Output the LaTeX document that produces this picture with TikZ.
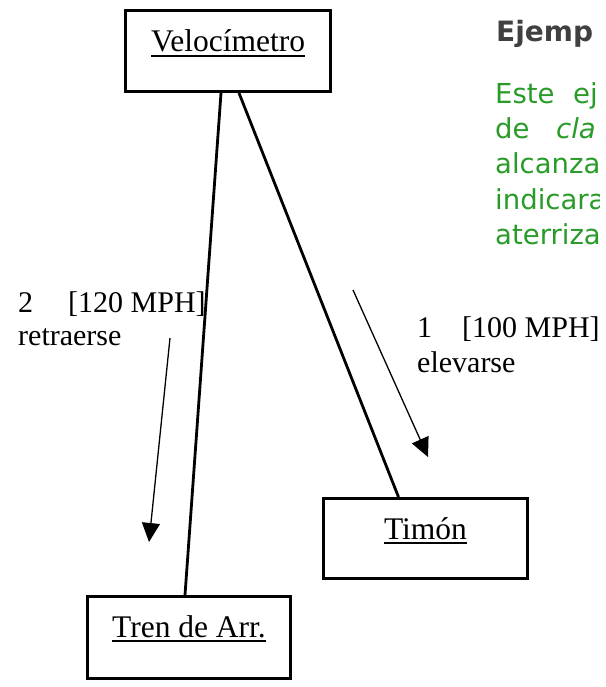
\documentclass[tikz,border=0pt]{standalone}
\usepackage{fontspec}
\setmainfont{Liberation Serif}
\newfontfamily\verdfont{DejaVu Sans}
\usetikzlibrary{arrows.meta}
\definecolor{exgreen}{RGB}{40,155,40}
\definecolor{exgray}{RGB}{64,64,64}
\newsavebox\ulsave
\newcommand\myul[1]{\sbox\ulsave{#1}\rlap{\rule[-4.75pt]{\wd\ulsave}{1.5pt}}\usebox\ulsave}
\tikzset{
  boxnode/.style={draw, line width=3pt, inner sep=0pt, anchor=base, font=\fontsize{31.5}{36}\selectfont},
  conn/.style={line width=2.8pt},
  arr/.style={line width=1.3pt, -{Triangle[length=19pt,width=18pt]}},
  lbl/.style={anchor=base west, inner sep=0pt, font=\fontsize{30}{34}\selectfont},
  grn/.style={anchor=base west, inner sep=0pt, text=exgreen, font=\verdfont\fontsize{27.5}{33}\selectfont},
}
\begin{document}
\begin{tikzpicture}[x=1pt,y=-1pt]
\useasboundingbox (0,0) rectangle (605,687);
% boxes
\node[boxnode, minimum width=205pt, text height=41.5pt, text depth=39.5pt] (vel) at (228,52) {\myul{Velocímetro}};
\node[boxnode, minimum width=203pt, text height=40.5pt, text depth=41.5pt] (tren) at (189,637) {\myul{Tren de Arr.}};
\node[boxnode, minimum width=204pt, text height=40.5pt, text depth=39.5pt] (timon) at (425.5,539) {\myul{Timón}};
% connectors
\draw[conn] ([xshift=-7pt]vel.south) -- ([xshift=-4pt]tren.north);
\draw[conn] ([xshift=11pt]vel.south) -- ([xshift=-27pt]timon.north);
% arrows
\coordinate (a2s) at (170,338);
\coordinate (a2e) at (149,542);
\coordinate (a1s) at (353,290);
\coordinate (a1e) at (428,457);
\draw[arr] (a2s) -- (a2e);
\draw[arr] (a1s) -- (a1e);
% labels
\node[lbl] (l2a) at (18,312) {\makebox[50pt][l]{2}[120 MPH]};
\node[lbl] (l2b) at (18,345) {retraerse};
\node[lbl] (l1a) at (417,337) {\makebox[45pt][l]{1}[100 MPH]};
\node[lbl] (l1b) at (417,372) {elevarse};
% clipped example text
\begin{scope}
\clip (0,0) rectangle (599,687);
\node[anchor=base west, inner sep=0pt, text=exgray, font=\verdfont\bfseries\fontsize{28}{34}\selectfont] (ej) at (496,42) {Ejemp};
\node[grn] (g1a) at (495,104) {Este};
\node[grn] (g1b) at (573,104) {ej};
\node[grn] (g2a) at (495,139) {de};
\node[grn] (g2b) at (556,139) {\itshape cla};
\node[grn] (g3) at (495,174) {alcanza};
\node[grn] (g4) at (495,209) {indicara};
\node[grn] (g5) at (495,244) {aterriza};
\end{scope}
\end{tikzpicture}
\end{document}
